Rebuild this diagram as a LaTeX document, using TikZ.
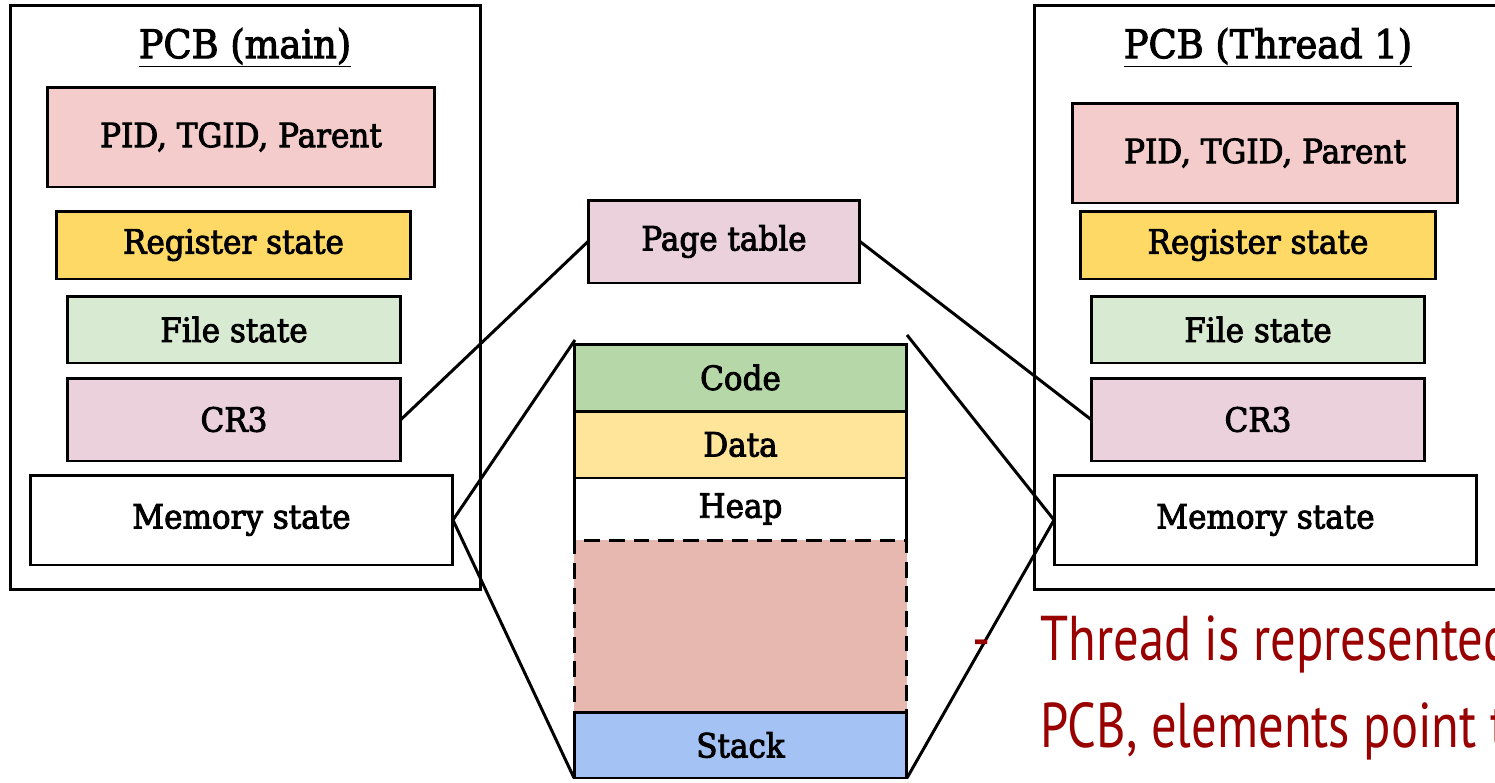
\documentclass[tikz,border=0pt]{standalone}
\usepackage{fontspec}
\setmainfont{DejaVu Serif}[FakeStretch=0.93, FakeBold=2.6]
\newfontfamily\redfont{PT Sans}[FakeStretch=0.8]
\definecolor{cpid}{HTML}{F4CCCC}
\definecolor{creg}{HTML}{FFD966}
\definecolor{cfile}{HTML}{D9EAD3}
\definecolor{ccr}{HTML}{EAD1DC}
\definecolor{ccode}{HTML}{B6D7A8}
\definecolor{cdata}{HTML}{FFE599}
\definecolor{cfree}{HTML}{E6B8AF}
\definecolor{cstack}{HTML}{A4C2F4}
\definecolor{cred}{HTML}{990000}
\tikzset{
  box/.style={draw=black, line width=1.7pt, rectangle, inner sep=0pt, outer sep=0pt,
    font=\fontsize{19}{23}\selectfont},
  outer/.style={draw=black, line width=1.7pt, rectangle, inner sep=0pt, outer sep=0pt},
  title/.style={font=\fontsize{22.5}{27}\selectfont, inner sep=0pt},
  link/.style={draw=black, line width=1.7pt},
  redtxt/.style={font=\redfont\fontsize{36}{43}\selectfont, text=cred, inner sep=0pt, anchor=base west}
}
\begin{document}
\begin{tikzpicture}[x=0.02cm,y=-0.02cm]
\useasboundingbox (0,0) rectangle (1495,782);
\clip (0,0) rectangle (1495,782);
% left PCB
\node[outer, minimum width=9.42cm, minimum height=11.7cm] (outerL) at (245.5,297.5) {};
\node[title] (titleL) at (245,48) {\underline{PCB (main)}};
\node[box, fill=cpid, minimum width=7.76cm, minimum height=2.0cm] (pidL) at (241,137) {PID, TGID, Parent};
\node[box, fill=creg, minimum width=7.1cm, minimum height=1.36cm] (regL) at (233.5,245) {Register state};
\node[box, fill=cfile, minimum width=6.68cm, minimum height=1.34cm] (fileL) at (234,329.5) {File state};
\node[box, fill=ccr, minimum width=6.68cm, minimum height=1.66cm] (cr3L) at (234,419.5) {CR3};
\node[box, fill=white, minimum width=8.46cm, minimum height=1.8cm] (memL) at (241.5,520) {Memory state};
% right PCB
\node[outer, minimum width=9.72cm, minimum height=11.7cm] (outerR) at (1277,297.5) {};
\node[title] (titleR) at (1268,48) {\underline{PCB (Thread 1)}};
\node[box, fill=cpid, minimum width=7.72cm, minimum height=2.0cm] (pidR) at (1265,153) {PID, TGID, Parent};
\node[box, fill=creg, minimum width=7.12cm, minimum height=1.36cm] (regR) at (1258,245) {Register state};
\node[box, fill=cfile, minimum width=6.68cm, minimum height=1.34cm] (fileR) at (1258,329.5) {File state};
\node[box, fill=ccr, minimum width=6.68cm, minimum height=1.66cm] (cr3R) at (1258,419.5) {CR3};
\node[box, fill=white, minimum width=8.46cm, minimum height=1.8cm] (memR) at (1265.5,520) {Memory state};
% page table
\node[box, fill=ccr, minimum width=5.44cm, minimum height=1.66cm] (pt) at (724,241.5) {Page table};
% memory layout
\node[box, fill=ccode, minimum width=6.66cm, minimum height=1.34cm] (code) at (740.5,377.5) {Code};
\node[box, fill=cdata, minimum width=6.66cm, minimum height=1.34cm] (data) at (740.5,444.5) {Data};
\node[box, dashed, dash pattern=on 9pt off 5pt, fill=cfree, minimum width=6.66cm, minimum height=3.44cm] (free) at (740.5,626) {};
\node[box, draw=none, fill=none, minimum width=6.66cm, minimum height=1.24cm] (heap) at (740.5,509) {Heap};
\draw[link] (data.south west) -- (free.north west);
\draw[link] (data.south east) -- (free.north east);
\node[box, fill=cstack, minimum width=6.66cm, minimum height=1.32cm] (stack) at (740.5,745) {Stack};
% connectors
\coordinate (mtl) at (575,340);
\coordinate (mtr) at (907,335);
\draw[link] (cr3L.east) -- (pt.west);
\draw[link] (pt.east) -- (cr3R.west);
\draw[link] (memL.east) -- (mtl);
\draw[link] (memL.east) -- (stack.south west);
\draw[link] (memR.west) -- (mtr);
\draw[link] (memR.west) -- (stack.south east);
% red text
\node[redtxt] (dash) at (972,660) {-};
\node[redtxt] (line1) at (1040,660) {Thread is represented};
\node[redtxt] (line2) at (1040,747) {PCB, elements point to};
\end{tikzpicture}
\end{document}
